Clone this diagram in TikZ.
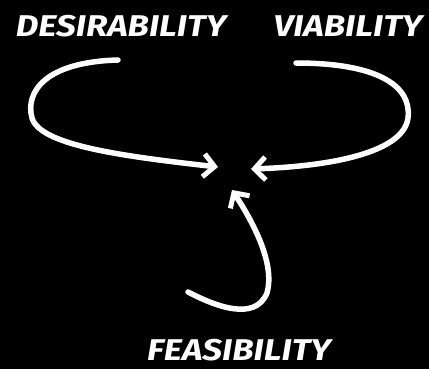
\documentclass[tikz,border=0pt]{standalone}
\usepackage{fontspec}
\setmainfont{Fira Sans}[FakeStretch=1.17]
\usetikzlibrary{arrows.meta,positioning,calc}
\definecolor{chalk}{HTML}{FFFFFF}
\definecolor{board}{HTML}{000000}

\begin{document}
\begin{tikzpicture}[x=1pt, y=-1pt,
    word/.style={text=chalk, font=\fontsize{30}{30}\selectfont\bfseries\itshape, inner sep=0pt},
    loop/.style={draw=chalk, line width=5.5pt, line cap=round, -{Straight Barb[length=11pt, width=23pt, line width=5pt]}}]
        % background
        \fill[board] (0,0) rectangle (429,369);
        \useasboundingbox (0,0) rectangle (429,369);
        % labels
        \node[word] (desire) at (121,26) {DESIRABILITY};
        \node[word] (viable) at (348,26) {VIABILITY};
        \node[word] (feasible) at (239,350) {FEASIBILITY};
        % arrow ends
        \coordinate (dstart) at (118,60);
        \coordinate (vstart) at (296,63);
        \coordinate (fstart) at (188,292);
        \coordinate (hubl) at (218,167);
        \coordinate (hubr) at (251,169);
        \coordinate (hubb) at (232,190);
        % loops into the centre
        \draw[loop] (dstart) .. controls (45,62) and (25,92) .. (32,118)
          .. controls (40,145) and (120,156) .. (hubl);
        \draw[loop] (vstart) .. controls (378,63) and (412,86) .. (408,118)
          .. controls (404,150) and (340,166) .. (hubr);
        \draw[loop] (fstart) .. controls (215,306) and (255,322) .. (267,293)
          .. controls (275,265) and (255,225) .. (hubb);
      \end{tikzpicture}
\end{document}
